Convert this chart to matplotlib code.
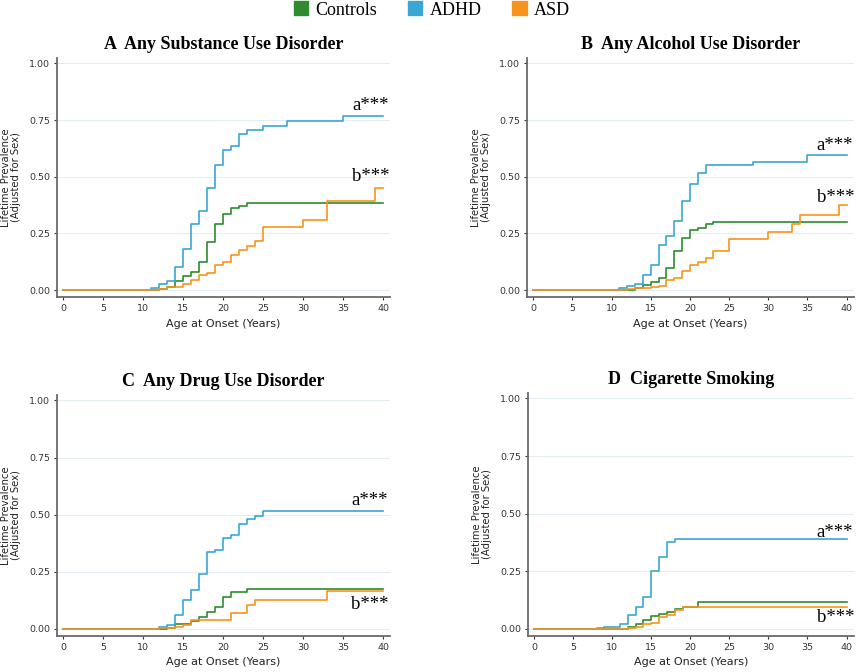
import matplotlib
matplotlib.use("Agg")
import matplotlib.pyplot as plt
from matplotlib.patches import Patch

# step values (age at onset, lifetime prevalence)
A_ctrl_age = [0, 12, 13, 14, 15, 16, 17, 18, 19, 20, 21, 22, 23, 40]
A_ctrl_val = [0, 0.005, 0.012, 0.04, 0.06, 0.08, 0.125, 0.21, 0.29, 0.335, 0.36, 0.37, 0.385, 0.385]
A_adhd_age = [0, 11, 12, 13, 14, 15, 16, 17, 18, 19, 20, 21, 22, 23, 25, 28, 35, 40]
A_adhd_val = [0, 0.01, 0.025, 0.04, 0.10, 0.18, 0.29, 0.35, 0.45, 0.55, 0.62, 0.635, 0.69, 0.705, 0.725, 0.745, 0.77, 0.77]
A_asd_age = [0, 12, 13, 15, 16, 17, 18, 19, 20, 21, 22, 23, 24, 25, 30, 33, 39, 40]
A_asd_val = [0, 0.005, 0.012, 0.025, 0.045, 0.065, 0.075, 0.11, 0.125, 0.155, 0.175, 0.195, 0.215, 0.28, 0.31, 0.395, 0.45, 0.45]

B_ctrl_age = [0, 13, 14, 15, 16, 17, 18, 19, 20, 21, 22, 23, 40]
B_ctrl_val = [0, 0.01, 0.02, 0.035, 0.055, 0.095, 0.17, 0.23, 0.265, 0.275, 0.29, 0.30, 0.30]
B_adhd_age = [0, 11, 12, 13, 14, 15, 16, 17, 18, 19, 20, 21, 22, 28, 35, 40]
B_adhd_val = [0, 0.008, 0.018, 0.025, 0.065, 0.11, 0.20, 0.24, 0.305, 0.395, 0.47, 0.515, 0.55, 0.565, 0.595, 0.595]
B_asd_age = [0, 12, 13, 15, 16, 17, 18, 19, 20, 21, 22, 23, 25, 30, 33, 34, 39, 40]
B_asd_val = [0, 0.003, 0.008, 0.012, 0.018, 0.045, 0.055, 0.085, 0.11, 0.125, 0.14, 0.17, 0.225, 0.255, 0.29, 0.33, 0.375, 0.375]

C_ctrl_age = [0, 13, 14, 16, 17, 18, 19, 20, 21, 23, 40]
C_ctrl_val = [0, 0.005, 0.02, 0.035, 0.05, 0.075, 0.095, 0.14, 0.16, 0.175, 0.175]
C_adhd_age = [0, 12, 13, 14, 15, 16, 17, 18, 19, 20, 21, 22, 23, 24, 25, 40]
C_adhd_val = [0, 0.008, 0.018, 0.06, 0.125, 0.17, 0.24, 0.335, 0.345, 0.40, 0.41, 0.46, 0.48, 0.495, 0.515, 0.515]
C_asd_age = [0, 12, 14, 15, 16, 21, 23, 24, 33, 40]
C_asd_val = [0, 0.003, 0.01, 0.015, 0.04, 0.07, 0.105, 0.125, 0.165, 0.165]

D_ctrl_age = [0, 12, 13, 14, 15, 16, 17, 18, 19, 21, 40]
D_ctrl_val = [0, 0.01, 0.02, 0.04, 0.055, 0.065, 0.075, 0.085, 0.095, 0.115, 0.115]
D_adhd_age = [0, 8, 9, 11, 12, 13, 14, 15, 16, 17, 18, 40]
D_adhd_val = [0, 0.005, 0.01, 0.02, 0.06, 0.095, 0.14, 0.25, 0.31, 0.375, 0.39, 0.39]
D_asd_age = [0, 12, 13, 14, 15, 16, 17, 18, 19, 40]
D_asd_val = [0, 0.003, 0.01, 0.02, 0.025, 0.05, 0.06, 0.08, 0.095, 0.095]

titles = ["A  Any Substance Use Disorder", "B  Any Alcohol Use Disorder",
          "C  Any Drug Use Disorder", "D  Cigarette Smoking"]
labels = ["Controls", "ADHD", "ASD"]
# (x, y) of "a***" and "b***"
ann_a = [(36.1, 0.815), (36.2, 0.636), (36.0, 0.56), (36.2, 0.42)]
ann_b = [(36.1, 0.50), (36.2, 0.41), (36.0, 0.106), (36.2, 0.05)]

c_ctrl = "#2e8b2e"
c_adhd = "#3aa6d4"
c_asd = "#f7941d"
serif = "Liberation Serif"

panels = [
    [(A_ctrl_age, A_ctrl_val), (A_adhd_age, A_adhd_val), (A_asd_age, A_asd_val)],
    [(B_ctrl_age, B_ctrl_val), (B_adhd_age, B_adhd_val), (B_asd_age, B_asd_val)],
    [(C_ctrl_age, C_ctrl_val), (C_adhd_age, C_adhd_val), (C_asd_age, C_asd_val)],
    [(D_ctrl_age, D_ctrl_val), (D_adhd_age, D_adhd_val), (D_asd_age, D_asd_val)],
]

fig = plt.figure(figsize=(8.57, 6.72), dpi=100)
rects = [
    [0.0665, 0.558, 0.389, 0.356],
    [0.615, 0.558, 0.381, 0.356],
    [0.0665, 0.0536, 0.389, 0.359],
    [0.616, 0.0536, 0.380, 0.362],
]

for i in range(4):
    ax = fig.add_axes(rects[i])
    for (ages, vals), col in zip(panels[i], [c_ctrl, c_adhd, c_asd]):
        ax.step(ages, vals, where="post", color=col, lw=1.2)
    ax.set_xlim(-0.8, 40.9)
    ax.set_ylim(-0.031, 1.025)
    ax.set_xticks(range(0, 41, 5))
    ax.set_yticks([0, 0.25, 0.5, 0.75, 1.0])
    ax.set_yticklabels(["0.00", "0.25", "0.50", "0.75", "1.00"])
    ax.grid(axis="y", color="#e3edf1", lw=0.8)
    ax.set_axisbelow(True)
    for s in ["top", "right"]:
        ax.spines[s].set_visible(False)
    for s in ["left", "bottom"]:
        ax.spines[s].set_color("#6a6a6a")
        ax.spines[s].set_linewidth(1.3)
    ax.tick_params(labelsize=6.8, colors="#333333", length=2.5, width=0.8, pad=2.5)
    ax.set_xlabel("Age at Onset (Years)", fontsize=8, color="#222222", labelpad=4)
    ax.set_ylabel("Lifetime Prevalence\n(Adjusted for Sex)", fontsize=7.2,
                  color="#222222", labelpad=6, linespacing=1.0)
    ax.set_title(titles[i], family=serif, fontweight="bold", fontsize=13, pad=6)
    ax.text(ann_a[i][0], ann_a[i][1], "a***", family=serif, fontsize=13.5,
            ha="left", va="center")
    ax.text(ann_b[i][0], ann_b[i][1], "b***", family=serif, fontsize=13.5,
            ha="left", va="center")

handles = [Patch(color=c_ctrl), Patch(color=c_adhd), Patch(color=c_asd)]
fig.legend(handles, labels, loc="upper center", bbox_to_anchor=(0.504, 1.022),
           ncol=3, frameon=False, prop={"family": serif, "size": 13},
           handlelength=0.8, handleheight=0.8, handletextpad=0.4,
           columnspacing=1.7)

fig.savefig("out.png", dpi=100)
